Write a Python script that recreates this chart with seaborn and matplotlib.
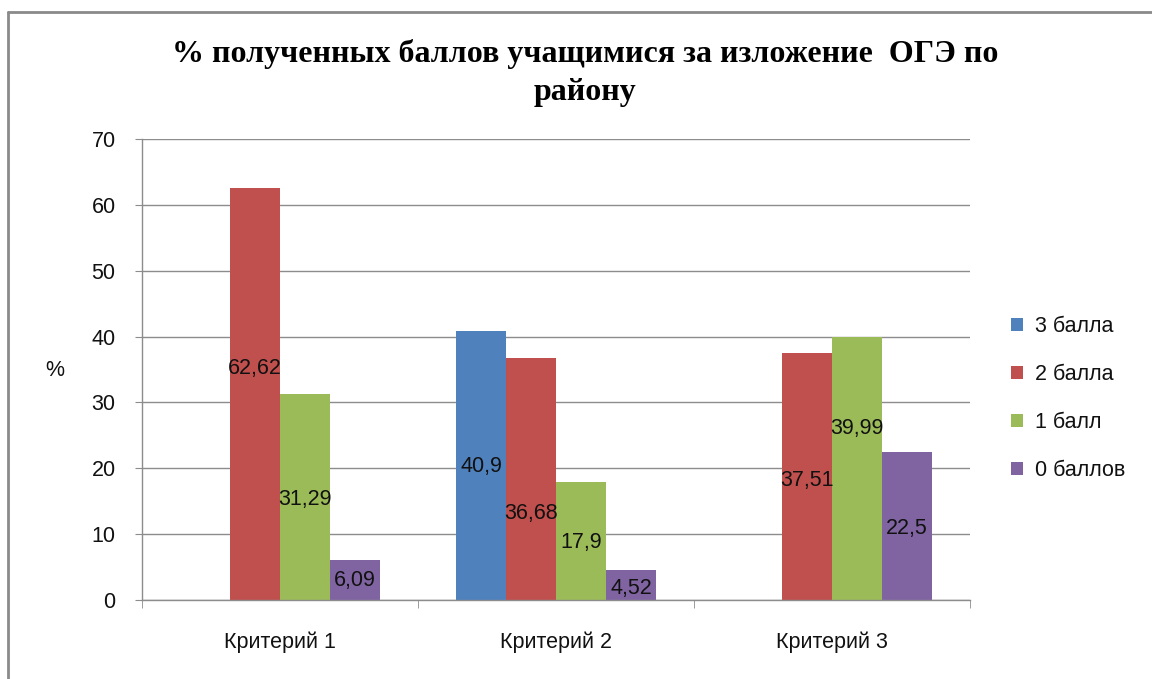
import numpy as np
import pandas as pd
import matplotlib
matplotlib.use("Agg")
import matplotlib.pyplot as plt
import seaborn as sns

# data
categories = ["Критерий 1", "Критерий 2", "Критерий 3"]
series = ["3 балла", "2 балла", "1 балл", "0 баллов"]
values_3 = [0, 40.9, 0]
values_2 = [62.62, 36.68, 37.51]
values_1 = [31.29, 17.9, 39.99]
values_0 = [6.09, 4.52, 22.5]

# where Excel put the data labels (data units), per series
label_y = [
    [None, 20.2, None],
    [35.2, 13.2, 18.2],
    [15.2, 8.8, 26.1],
    [3.0, 1.8, 10.9],
]

colors = ["#4F81BD", "#C0504D", "#9BBB59", "#8064A2"]

rows = []
for name, vals in zip(series, [values_3, values_2, values_1, values_0]):
    for cat, v in zip(categories, vals):
        rows.append({"cat": cat, "series": name, "value": v})
df = pd.DataFrame(rows)

sns.set_style("white")
plt.rcParams['font.family'] = ['Liberation Sans', 'DejaVu Sans']

fs = 15.5
txt_col = "#111111"

fig = plt.figure(figsize=(11.52, 6.79), dpi=100)
ax = fig.add_axes([0.1233, 0.1163, 0.8420 - 0.1233, 0.7953 - 0.1163])

sns.barplot(data=df, x="cat", y="value", hue="series", order=categories,
            hue_order=series, palette=colors, saturation=1, width=0.725,
            gap=0, linewidth=0, errorbar=None, ax=ax)

ax.set_ylim(0, 70)
ax.set_xlim(-0.5, 2.5)
ax.set_yticks(np.arange(0, 71, 10))
ax.yaxis.grid(True, color="#8c8c8c", linewidth=1)
ax.set_axisbelow(True)

grid_col = "#8c8c8c"
for s in ["top", "right"]:
    ax.spines[s].set_visible(False)
for s in ["left", "bottom"]:
    ax.spines[s].set_color(grid_col)
    ax.spines[s].set_linewidth(1)

ax.tick_params(axis="y", which="major", direction="out", length=5, color=grid_col,
               labelsize=fs, pad=14, labelcolor=txt_col, left=True)
ax.set_xticks([0, 1, 2])
ax.set_xticklabels(categories)
ax.tick_params(axis="x", which="major", length=0, labelsize=fs, pad=23,
               labelcolor=txt_col)
ax.set_xticks([-0.5, 0.5, 1.5, 2.5], minor=True)
ax.tick_params(axis="x", which="minor", direction="out", length=6, color=grid_col,
               bottom=True)

ax.set_xlabel("")
ax.set_ylabel("%", rotation=0, fontsize=fs, color=txt_col, labelpad=0)
ax.yaxis.set_label_coords(-0.105, 0.475)

# data labels
for cont, ys in zip(ax.containers, label_y):
    for patch, y, lab in zip(cont.patches, ys, cont.datavalues):
        if y is None:
            continue
        txt = f"{lab:g}".replace(".", ",")
        ax.text(patch.get_x() + patch.get_width() / 2, y, txt,
                ha="center", va="center", fontsize=fs, color=txt_col)

leg = ax.legend(loc="center left", bbox_to_anchor=(1.026, 0.437), frameon=False,
                fontsize=fs, handlelength=0.55, handleheight=0.55,
                handletextpad=0.55, labelspacing=1.25)
for t in leg.get_texts():
    t.set_color(txt_col)

fig.text(0.508, 0.892, "% полученных баллов учащимися за изложение  ОГЭ по\nрайону",
         ha="center", va="center", fontsize=23, fontweight="bold", color="black",
         family=["Liberation Serif", "DejaVu Serif"], linespacing=1.4)

# chart frame (only top and left edges visible in the screenshot)
fig.add_artist(plt.Line2D([8 / 1152, 1.0], [1 - 12 / 679, 1 - 12 / 679],
                          color="#8a8a8a", linewidth=2, transform=fig.transFigure))
fig.add_artist(plt.Line2D([8 / 1152, 8 / 1152], [0, 1 - 12 / 679],
                          color="#8a8a8a", linewidth=2, transform=fig.transFigure))

fig.savefig("out.png", dpi=100, facecolor="white")
